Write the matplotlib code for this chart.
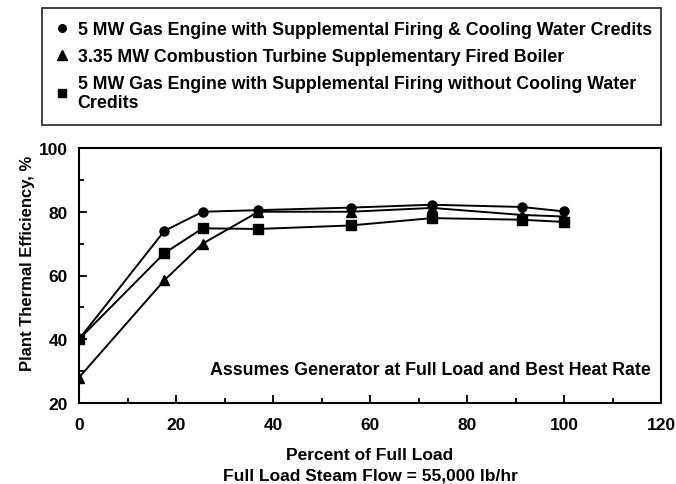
import matplotlib.pyplot as plt
from matplotlib.ticker import MultipleLocator

plt.rcParams['font.family'] = ['Liberation Sans', 'DejaVu Sans']
plt.rcParams['font.weight'] = 'bold'

# data
load_pct = [0, 17.6, 25.5, 37, 56, 72.8, 91.3, 100]
eff_engine_credits = [40, 74, 80, 80.5, 81.3, 82.2, 81.5, 80.1]
eff_turbine = [28, 58.5, 70, 80, 80, 81.2, 79, 78.5]
eff_engine_no_credits = [40, 67, 74.8, 74.6, 75.7, 78, 77.5, 76.8]

labels = [
    "5 MW Gas Engine with Supplemental Firing & Cooling Water Credits",
    "3.35 MW Combustion Turbine Supplementary Fired Boiler",
    "5 MW Gas Engine with Supplemental Firing without Cooling Water\nCredits",
]

W, H = 676, 485
FS = 12.8
fig = plt.figure(figsize=(W / 100, H / 100), dpi=100)
ax = fig.add_axes([79 / W, 1 - 404 / H, (661 - 79) / W, (404 - 149) / H])

kw = dict(color="black", lw=1.4)
ax.plot(load_pct, eff_engine_credits, marker="o", ms=6.5, **kw)
ax.plot(load_pct, eff_turbine, marker="^", ms=7, **kw)
ax.plot(load_pct, eff_engine_no_credits, marker="s", ms=6.5, **kw)

ax.set_xlim(0, 120)
ax.set_ylim(20, 100)
ax.xaxis.set_major_locator(MultipleLocator(20))
ax.xaxis.set_minor_locator(MultipleLocator(10))
ax.yaxis.set_major_locator(MultipleLocator(20))
ax.yaxis.set_minor_locator(MultipleLocator(10))
ax.tick_params(which="both", direction="in", top=False, right=False,
               labelsize=12.5, width=1.3)
ax.tick_params(axis="x", which="major", length=6, pad=10)
ax.tick_params(axis="y", which="major", length=6, pad=8)
ax.tick_params(which="minor", length=3.5)
for sp in ax.spines.values():
    sp.set_linewidth(1.5)

ax.set_ylabel("Plant Thermal Efficiency, %", fontsize=12,
              fontweight="bold")
ax.yaxis.set_label_coords(-0.076, 0.55)
ax.set_xlabel("Percent of Full Load\nFull Load Steam Flow = 55,000 lb/hr",
              fontsize=12.5, fontweight="bold", labelpad=11, linespacing=1.45)

ax.text(118, 30.4, "Assumes Generator at Full Load and Best Heat Rate",
        ha="right", va="center", fontsize=FS)

handles = [plt.Line2D([], [], ls="none", marker=m, color="black", ms=s)
           for m, s in [("o", 5.5), ("^", 6.5), ("s", 5.5)]]
leg = fig.legend(handles, labels, loc="upper left", mode="expand",
                 bbox_to_anchor=(42 / W, 1 - 9 / H, (661 - 42) / W, 0),
                 borderaxespad=0, fontsize=FS, frameon=True, fancybox=False,
                 edgecolor="black", handlelength=0.7, handletextpad=0.55,
                 borderpad=0.75, labelspacing=0.55)
leg.get_frame().set_linewidth(1.3)

fig.savefig("out.png", dpi=100)
